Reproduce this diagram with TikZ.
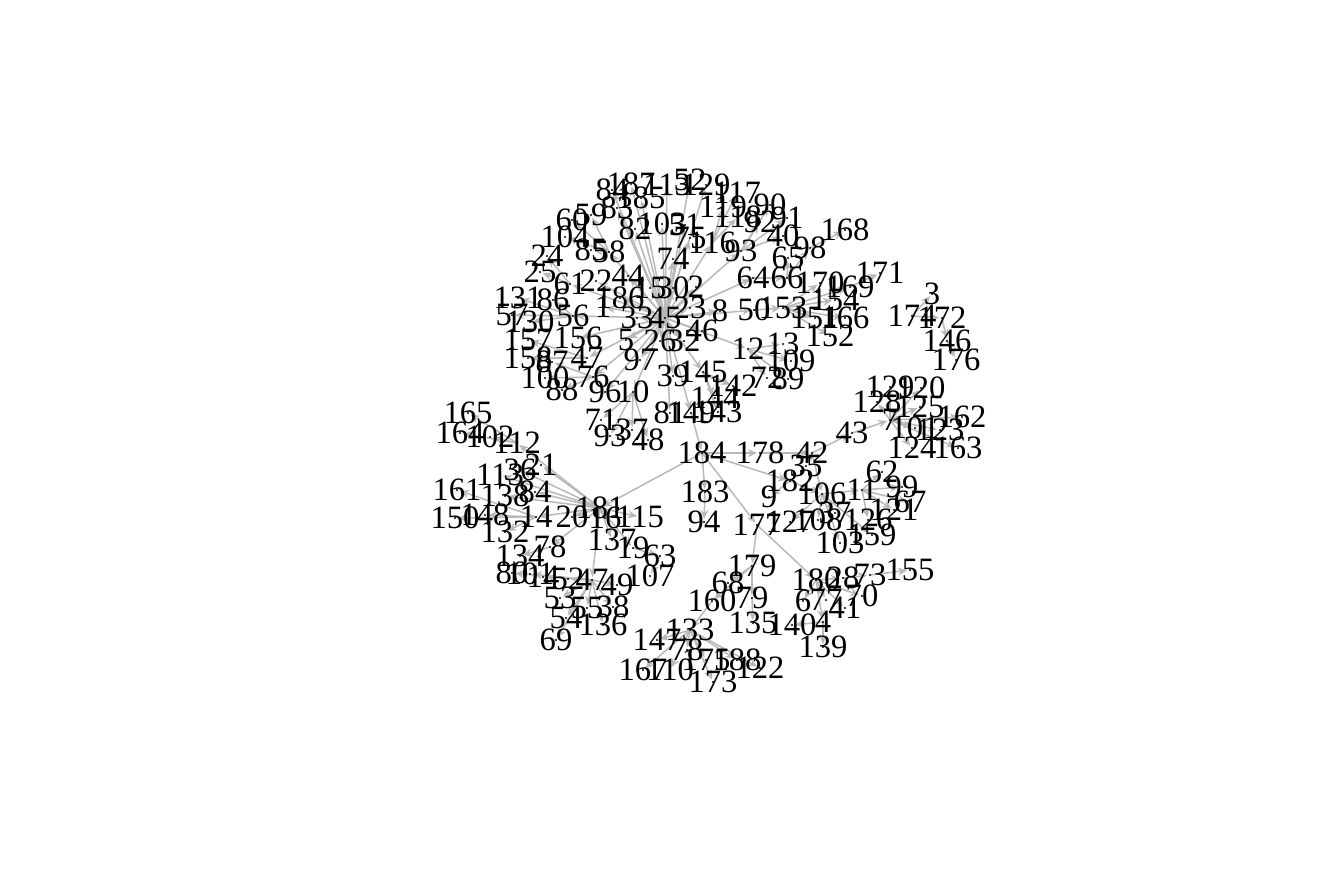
\documentclass[tikz,border=0pt]{standalone}
\usepackage{fontspec}
\setmainfont{Liberation Serif}
\usetikzlibrary{arrows.meta}
\definecolor{edgegray}{RGB}{185,185,185}
\tikzset{
  lab/.style={inner sep=0pt, outer sep=0pt, font=\fontsize{16.3pt}{16pt}\selectfont, text=black},
  edge/.style={draw=edgegray, line width=0.75pt, -{Stealth[length=4.5pt,width=4pt]}, shorten >=1.5pt},
}
\begin{document}
\begin{tikzpicture}[x=0.5pt,y=-0.5pt]
\fill[white] (0,0) rectangle (1344,895);
\useasboundingbox (0,0) rectangle (1344,895);
% vertices: name/label/x/y
\foreach \n/\t/\x/\y in {
84/84/612/190, 187/187/631/184, 185/185/641/198, 83/83/617/208, 113/113/667/185,
52/52/690/180, 129/129/706/185, 117/117/737/193, 119/119/723/207, 118/118/738/217,
90/90/770/205, 92/92/760/222, 91/91/787/218, 40/40/783/236, 93/93/741/251,
116/116/712/243, 98/98/810/248, 65/65/788/258, 168/168/845/230, 64/64/753/278,
66/66/787/278, 170/170/820/283, 169/169/850/287, 171/171/880/273, 154/154/835/300,
50/50/754/310, 153/153/783/308, 151/151/815/318, 166/166/845/318, 152/152/830/336,
59/59/591/215, 60/60/572/220, 104/104/565/237, 82/82/635/229, 103/103/662/224,
51/51/685/225, 75/75/690/238, 74/74/673/259, 58/58/609/252, 85/85/591/250,
24/24/547/256, 25/25/540/272, 61/61/570/284, 22/22/596/281, 44/44/628/276,
186/186/620/298, 1/1/603/307, 131/131/518/298, 86/86/553/300, 57/57/512/315,
130/130/530/322, 56/56/573/316, 15/15/650/288, 30/30/673/288, 2/2/696/287,
33/33/637/318, 45/45/665/318, 23/23/690/308, 8/8/720/311, 46/46/702/331,
26/26/660/341, 32/32/684/341, 5/5/626/340, 97/97/640/360, 156/156/578/338,
47/47/587/358, 76/76/593/377, 157/157/528/340, 158/158/528/358, 87/87/552/362,
100/100/545/378, 88/88/562/390, 96/96/605/392, 10/10/633/392, 39/39/673/376,
145/145/703/372, 81/81/670/413, 149/149/691/413, 144/144/715/398, 142/142/733/386,
143/143/718/412, 12/12/748/349, 13/13/783/344, 109/109/791/361, 72/72/767/378,
89/89/788/379, 71/71/601/420, 93b/93/610/436, 37/37/632/430, 48/48/648/440,
184/184/702/453, 183/183/705/492, 94/94/704/522, 178/178/760/453, 42/42/812/453,
43/43/852/433, 35/35/806/466, 182/182/790/481, 9/9/769/497, 106/106/822/494,
11/11/862/490, 62/62/882/472, 99/99/902/487, 67/67/910/502, 121/121/894/510,
126/126/868/520, 177/177/757/525, 127/127/790/522, 108/108/818/520, 37b/37/835/513,
103b/103/840/543, 159/159/872/535,
3/3/932/294, 174/174/912/316, 172/172/942/318, 146/146/947/341, 176/176/956/360,
129b/129/890/387, 120/120/921/388, 128/128/877/402, 125/125/920/407, 7/7/890/420,
101b/101/915/428, 162/162/962/417, 123/123/940/430, 124/124/912/448, 163/163/958/448,
180/180/816/580, 28/28/843/578, 73/73/870/575, 155/155/910/570, 6/6/803/601,
77/77/826/600, 70/70/862/596, 41/41/845/608, 140/140/792/625, 4/4/823/622,
139/139/823/647, 179/179/752/566, 68/68/728/583, 160/160/712/601, 79/79/752/598,
135/135/753/623, 147/147/657/640, 133/133/690/630, 78/78/687/650, 167/167/643/670,
110/110/670/670, 175/175/706/660, 188/188/737/660, 122/122/760/668, 173/173/713/682,
165/165/468/413, 164/164/460/433, 102/102/490/437, 112/112/517/443, 21/21/541/465,
36/36/520/470, 113b/113/500/475, 161/161/457/490, 138/138/505/496, 84b/84/535/492,
150/150/455/518, 148/148/485/515, 14/14/536/517, 132/132/505/532, 20/20/572/517,
181/181/600/508, 16/16/605/518, 115/115/640/517, 137/137/612/540, 19/19/633/548,
63/63/660/556, 78b/78/550/547, 134/134/520/556, 80/80/512/573, 101/101/530/574,
14b/14/543/577, 52b/52/568/579, 47b/47/592/580, 49/49/617/585, 53/53/560/598,
55/55/587/608, 38/38/613/607, 54/54/566/618, 136/136/603/625, 69/69/556/640,
107/107/650/576}
{\coordinate (v\n) at (\x,\y);}
% edges
\foreach \a/\b in {
45/84, 45/187, 45/185, 45/83, 45/113, 45/52, 45/129, 45/82, 45/103, 45/51, 45/75, 45/74,
45/116, 116/117, 116/119, 116/118, 45/93, 93/90, 93/92, 93/91, 93/40,
45/64, 64/66, 66/65, 66/98, 98/168, 45/50, 50/153, 153/154, 153/170, 153/169, 169/171,
153/151, 153/166, 153/152, 45/23, 45/8, 45/2, 45/30, 45/15, 45/33, 45/186, 45/1, 45/44,
45/22, 45/56, 56/131, 56/86, 56/57, 56/130, 45/156, 45/5, 45/97, 45/26, 45/32, 45/46,
45/39, 45/145, 145/142, 145/144, 145/143, 45/81, 45/149, 45/10, 10/71, 10/93b, 10/37, 10/48,
45/96, 45/76, 45/47, 47/157, 47/158, 76/87, 76/100, 76/88, 45/58, 58/85, 58/59, 58/60,
58/104, 45/61, 61/24, 61/25, 45/12, 12/13, 12/109, 12/72, 12/89,
149/184, 184/181, 184/178, 178/42, 42/43, 42/35, 42/106, 184/183, 183/94, 184/182, 182/9,
182/106, 106/11, 11/62, 11/99, 11/67, 11/121, 11/126, 106/37b, 106/108, 106/127, 106/103b,
106/159, 43/7, 7/128, 7/129b, 7/120, 7/125, 7/101b, 7/123, 7/162, 7/124, 7/163,
184/177, 177/180, 180/28, 28/73, 73/155, 180/6, 180/77, 180/70, 180/41, 180/4, 4/140, 4/139,
177/179, 179/68, 179/160, 179/79, 79/135, 160/133, 133/147, 133/78, 133/167, 133/110,
133/175, 133/188, 133/122, 133/173,
181/20, 181/14, 181/84b, 181/138, 181/21, 181/112, 112/102, 112/164, 112/165, 181/36,
181/113b, 181/16, 181/115, 181/137, 181/19, 19/63, 63/107, 181/78b, 14/148, 14/150,
14/161, 14/132, 78b/134, 181/47b, 47b/80, 47b/101, 47b/14b, 47b/52b, 47b/49, 47b/53,
47b/55, 47b/38, 47b/54, 47b/136, 47b/69,
174/3, 174/172, 172/146, 146/176}
{\draw[edge] (v\a) -- (v\b);}
% vertex dots and labels
\foreach \n/\t/\x/\y in {
84/84/612/190, 187/187/631/184, 185/185/641/198, 83/83/617/208, 113/113/667/185,
52/52/690/180, 129/129/706/185, 117/117/737/193, 119/119/723/207, 118/118/738/217,
90/90/770/205, 92/92/760/222, 91/91/787/218, 40/40/783/236, 93/93/741/251,
116/116/712/243, 98/98/810/248, 65/65/788/258, 168/168/845/230, 64/64/753/278,
66/66/787/278, 170/170/820/283, 169/169/850/287, 171/171/880/273, 154/154/835/300,
50/50/754/310, 153/153/783/308, 151/151/815/318, 166/166/845/318, 152/152/830/336,
59/59/591/215, 60/60/572/220, 104/104/565/237, 82/82/635/229, 103/103/662/224,
51/51/685/225, 75/75/690/238, 74/74/673/259, 58/58/609/252, 85/85/591/250,
24/24/547/256, 25/25/540/272, 61/61/570/284, 22/22/596/281, 44/44/628/276,
186/186/620/298, 1/1/603/307, 131/131/518/298, 86/86/553/300, 57/57/512/315,
130/130/530/322, 56/56/573/316, 15/15/650/288, 30/30/673/288, 2/2/696/287,
33/33/637/318, 45/45/665/318, 23/23/690/308, 8/8/720/311, 46/46/702/331,
26/26/660/341, 32/32/684/341, 5/5/626/340, 97/97/640/360, 156/156/578/338,
47/47/587/358, 76/76/593/377, 157/157/528/340, 158/158/528/358, 87/87/552/362,
100/100/545/378, 88/88/562/390, 96/96/605/392, 10/10/633/392, 39/39/673/376,
145/145/703/372, 81/81/670/413, 149/149/691/413, 144/144/715/398, 142/142/733/386,
143/143/718/412, 12/12/748/349, 13/13/783/344, 109/109/791/361, 72/72/767/378,
89/89/788/379, 71/71/601/420, 93b/93/610/436, 37/37/632/430, 48/48/648/440,
184/184/702/453, 183/183/705/492, 94/94/704/522, 178/178/760/453, 42/42/812/453,
43/43/852/433, 35/35/806/466, 182/182/790/481, 9/9/769/497, 106/106/822/494,
11/11/862/490, 62/62/882/472, 99/99/902/487, 67/67/910/502, 121/121/894/510,
126/126/868/520, 177/177/757/525, 127/127/790/522, 108/108/818/520, 37b/37/835/513,
103b/103/840/543, 159/159/872/535,
3/3/932/294, 174/174/912/316, 172/172/942/318, 146/146/947/341, 176/176/956/360,
129b/129/890/387, 120/120/921/388, 128/128/877/402, 125/125/920/407, 7/7/890/420,
101b/101/915/428, 162/162/962/417, 123/123/940/430, 124/124/912/448, 163/163/958/448,
180/180/816/580, 28/28/843/578, 73/73/870/575, 155/155/910/570, 6/6/803/601,
77/77/826/600, 70/70/862/596, 41/41/845/608, 140/140/792/625, 4/4/823/622,
139/139/823/647, 179/179/752/566, 68/68/728/583, 160/160/712/601, 79/79/752/598,
135/135/753/623, 147/147/657/640, 133/133/690/630, 78/78/687/650, 167/167/643/670,
110/110/670/670, 175/175/706/660, 188/188/737/660, 122/122/760/668, 173/173/713/682,
165/165/468/413, 164/164/460/433, 102/102/490/437, 112/112/517/443, 21/21/541/465,
36/36/520/470, 113b/113/500/475, 161/161/457/490, 138/138/505/496, 84b/84/535/492,
150/150/455/518, 148/148/485/515, 14/14/536/517, 132/132/505/532, 20/20/572/517,
181/181/600/508, 16/16/605/518, 115/115/640/517, 137/137/612/540, 19/19/633/548,
63/63/660/556, 78b/78/550/547, 134/134/520/556, 80/80/512/573, 101/101/530/574,
14b/14/543/577, 52b/52/568/579, 47b/47/592/580, 49/49/617/585, 53/53/560/598,
55/55/587/608, 38/38/613/607, 54/54/566/618, 136/136/603/625, 69/69/556/640,
107/107/650/576}
{\fill[black] (v\n) circle[radius=1.2];
 \node[lab] (l\n) at (v\n) {\t};}
\end{tikzpicture}
\end{document}
